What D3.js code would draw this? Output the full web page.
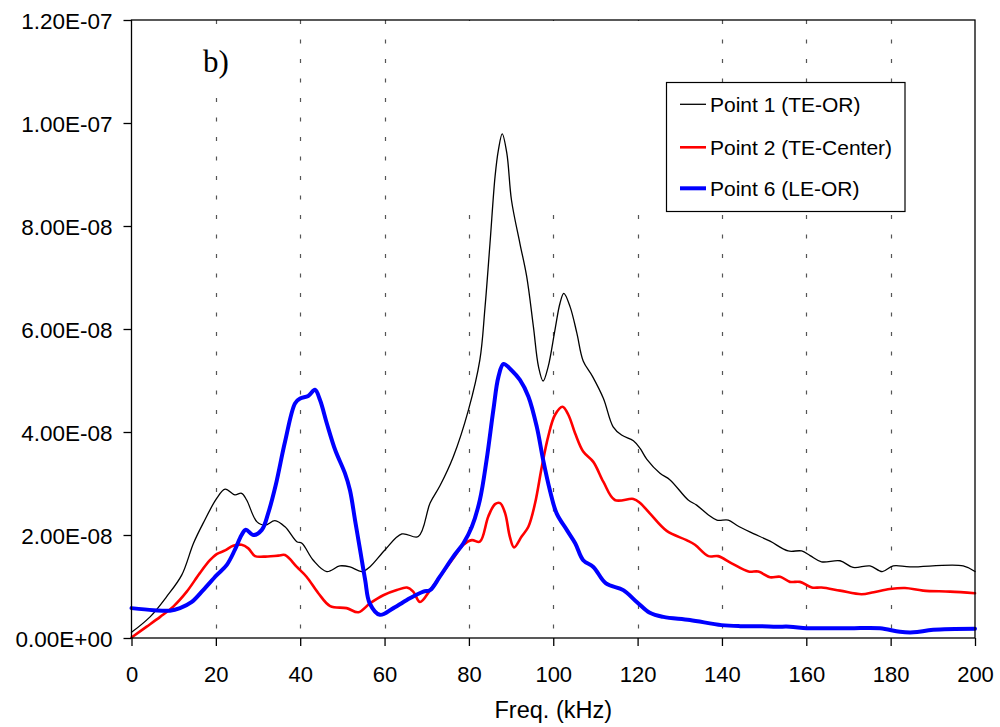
<!DOCTYPE html>
<html>
<head>
<meta charset="utf-8">
<script src="https://cdn.jsdelivr.net/npm/d3@7"></script>
<style>
  html, body { margin: 0; padding: 0; background: #fff; }
  svg { display: block; }
  text { font-family: "Liberation Sans", Arial, sans-serif; fill: #000; }
</style>
</head>
<body>
<svg id="chart" width="1000" height="727"></svg>
<script>
// ---- Data (values in units of 1E-8) ----
const xTicks = [0, 20, 40, 60, 80, 100, 120, 140, 160, 180, 200];
const yTicks = [0, 2e-8, 4e-8, 6e-8, 8e-8, 1e-7, 1.2e-7];
const yTickLabels = ["0.00E+00", "2.00E-08", "4.00E-08", "6.00E-08", "8.00E-08", "1.00E-07", "1.20E-07"];
const seriesNames = ["Point 1 (TE-OR)", "Point 2 (TE-Center)", "Point 6 (LE-OR)"];

const p1Freq = [0, 4.4, 8.3, 11.9, 14.7, 17, 20.2, 22.2, 24.5, 26.1, 27.3, 29.7, 31.7, 34, 36.4, 39.2, 40.4, 43.1, 46.3, 49.4, 51.8, 54.6, 56.5, 60.1, 64.1, 68, 70.8, 73.1, 76.3, 79.9, 82.6, 83.8, 85, 86.2, 87, 87.9, 89, 90.1, 92.1, 93.7, 95.3, 96.5, 97.6, 98.8, 100.4, 101.6, 102.5, 104, 105.6, 107.1, 109.3, 111.9, 114.2, 116.2, 119, 120.6, 122.2, 125.3, 127.7, 132, 134, 136.8, 138.8, 141.5, 143.5, 146.6, 151.4, 155.7, 158.9, 160.9, 163.6, 168, 171.1, 175.1, 178, 180.6, 184.6, 197.2, 200];
const p1Val = [0.11, 0.41, 0.8, 1.22, 1.84, 2.23, 2.71, 2.89, 2.78, 2.81, 2.68, 2.26, 2.19, 2.28, 2.16, 1.87, 1.84, 1.51, 1.29, 1.40, 1.38, 1.29, 1.38, 1.71, 2.02, 1.97, 2.62, 2.95, 3.52, 4.43, 5.40, 6.40, 7.66, 8.96, 9.48, 9.79, 9.41, 8.50, 7.66, 7.02, 6.04, 5.27, 4.99, 5.27, 5.98, 6.50, 6.69, 6.43, 5.92, 5.38, 5.08, 4.65, 4.10, 3.94, 3.83, 3.68, 3.47, 3.20, 3.07, 2.68, 2.58, 2.39, 2.29, 2.29, 2.19, 2.06, 1.88, 1.69, 1.69, 1.60, 1.48, 1.50, 1.37, 1.40, 1.29, 1.40, 1.38, 1.40, 1.29];

const p2Freq = [0, 3.6, 6.8, 9.9, 13.1, 16.2, 18.6, 20.2, 22.2, 24.1, 26.1, 27.7, 29.3, 31.3, 34.8, 36.4, 39.2, 41.5, 44.3, 47.1, 51, 53.8, 56.5, 59.7, 62.9, 65.3, 66.8, 68.4, 70.8, 73.1, 76.3, 78.7, 80.7, 82.6, 84.6, 86.2, 87.4, 88.6, 89.7, 90.7, 92.5, 94.1, 95.7, 97.3, 98.8, 100.4, 102.2, 103.6, 105.2, 107.1, 109.5, 111.9, 114.6, 119, 120.6, 122.9, 126.9, 131.6, 133.6, 136.8, 139.1, 142.3, 146.3, 148.6, 151.4, 153.8, 156.1, 158.5, 161.3, 163.6, 168, 173.1, 176, 179.8, 183.4, 187.7, 194.1, 200];
const p2Val = [0.01, 0.22, 0.41, 0.61, 0.90, 1.26, 1.51, 1.63, 1.70, 1.79, 1.81, 1.74, 1.59, 1.58, 1.60, 1.61, 1.38, 1.19, 0.87, 0.62, 0.58, 0.50, 0.67, 0.83, 0.93, 0.98, 0.90, 0.70, 0.93, 1.19, 1.55, 1.81, 1.90, 1.87, 2.36, 2.60, 2.62, 2.42, 1.97, 1.76, 1.97, 2.16, 2.62, 3.33, 3.91, 4.33, 4.49, 4.33, 3.97, 3.62, 3.42, 3.03, 2.68, 2.70, 2.62, 2.42, 2.08, 1.90, 1.81, 1.59, 1.59, 1.45, 1.29, 1.29, 1.18, 1.19, 1.09, 1.09, 0.98, 0.98, 0.92, 0.85, 0.89, 0.95, 0.97, 0.92, 0.90, 0.87];

const p6Freq = [0, 5.2, 9.1, 11.5, 14.3, 17, 20.2, 22.6, 24.5, 26.1, 27.1, 28.9, 30.9, 32.4, 34.2, 36.4, 38.8, 40, 41.9, 43.5, 44.7, 46.3, 48.3, 50.6, 51.8, 53, 54.2, 55.4, 56.5, 58.9, 62.1, 66, 69.2, 70.8, 73.1, 76.3, 78.7, 80.7, 82.6, 84.2, 85.8, 87, 88.2, 90.1, 92.1, 94.1, 96.1, 97.6, 99.2, 100.8, 103.2, 105.2, 107.1, 109.5, 112.5, 116.6, 119.8, 122.9, 126.1, 132.4, 139.9, 144.3, 149, 153, 156.1, 160.1, 164, 170.4, 177.5, 182.2, 185.4, 190.1, 200];
const p6Val = [0.58, 0.54, 0.53, 0.58, 0.70, 0.93, 1.22, 1.42, 1.71, 2.00, 2.10, 2.00, 2.10, 2.42, 2.97, 3.81, 4.56, 4.65, 4.70, 4.82, 4.62, 4.17, 3.65, 3.20, 2.87, 2.29, 1.71, 1.13, 0.67, 0.45, 0.58, 0.77, 0.90, 0.93, 1.19, 1.58, 1.84, 2.16, 2.68, 3.46, 4.43, 5.07, 5.32, 5.20, 5.01, 4.69, 4.10, 3.46, 2.87, 2.42, 2.10, 1.84, 1.51, 1.38, 1.06, 0.93, 0.70, 0.49, 0.41, 0.35, 0.25, 0.23, 0.23, 0.22, 0.22, 0.19, 0.19, 0.19, 0.19, 0.12, 0.11, 0.16, 0.18];

const colors = ["#000000", "#ff0000", "#0000ff"];
const widths = [1.3, 2.6, 4];

// ---- Layout ----
const svg = d3.select("#chart");
const mLeft = 131.5, mRight = 975, mTop = 20, mBottom = 638;
const x = d3.scaleLinear().domain([0, 200]).range([mLeft, mRight]);
const y = d3.scaleLinear().domain([0, 1.2e-7]).range([mBottom, mTop]);

svg.append("rect").attr("width", 1000).attr("height", 727).attr("fill", "#fff");

// Gridlines (vertical, dashed)
svg.append("g").selectAll("line")
  .data(xTicks.filter(d => d > 0 && d < 200))
  .join("line")
  .attr("x1", d => Math.round(x(d)) + 0.5).attr("x2", d => Math.round(x(d)) + 0.5)
  .attr("y1", mTop).attr("y2", mBottom)
  .attr("stroke", "#555").attr("stroke-width", 1.2)
  .attr("stroke-dasharray", "4,15.5");

// white boxes hiding gridlines (text boxes in original)
svg.append("rect").attr("x", 195).attr("y", 25).attr("width", 45).attr("height", 70).attr("fill", "#fff");
svg.append("rect").attr("x", 420).attr("y", 21).attr("width", 240).attr("height", 186).attr("fill", "#fff");

// Series
const series = [
  { f: p1Freq, v: p1Val },
  { f: p2Freq, v: p2Val },
  { f: p6Freq, v: p6Val }
];
const line = d3.line()
  .x(d => x(d[0]))
  .y(d => y(d[1] * 1e-8))
  .curve(d3.curveCatmullRom.alpha(0.5));

series.forEach((s, i) => {
  const pts = s.f.map((f, k) => [f, s.v[k]]);
  svg.append("path")
    .datum(pts)
    .attr("d", line)
    .attr("fill", "none")
    .attr("stroke", colors[i])
    .attr("stroke-width", widths[i])
    .attr("stroke-linejoin", "round")
    .attr("stroke-linecap", "round");
});

// Frame
svg.append("rect").attr("x", mLeft).attr("y", mTop).attr("width", mRight - mLeft).attr("height", mBottom - mTop)
  .attr("fill", "none").attr("stroke", "#000").attr("stroke-width", 1.3);

// Axes
const yAxis = d3.axisLeft(y).tickValues(yTicks).tickSize(8).tickFormat((d, i) => yTickLabels[i]);
const gy = svg.append("g").attr("transform", `translate(${mLeft},0)`).call(yAxis);
gy.select(".domain").remove();
gy.selectAll(".tick line").attr("stroke", "#000").attr("stroke-width", 1.3);
gy.selectAll(".tick text").attr("x", -19).attr("dy", "0.36em")
  .style("font-size", "22.5px").style("font-family", "Liberation Sans, Arial, sans-serif");

const xAxis = d3.axisBottom(x).tickValues(xTicks).tickSize(8).tickFormat(d => String(d));
const gx = svg.append("g").attr("transform", `translate(0,${mBottom})`).call(xAxis);
gx.select(".domain").remove();
gx.selectAll(".tick line").attr("stroke", "#000").attr("stroke-width", 1.3);
gx.selectAll(".tick text").attr("y", 44).attr("dy", 0)
  .style("font-size", "22px").style("font-family", "Liberation Sans, Arial, sans-serif");

svg.append("text").attr("x", (mLeft + mRight) / 2).attr("y", 718)
  .attr("text-anchor", "middle").style("font-size", "23.5px").text("Freq. (kHz)");

// Panel label
svg.append("text").attr("x", 203).attr("y", 72)
  .style("font-family", "Liberation Serif, 'Times New Roman', serif").style("font-size", "31px").text("b)");

// Legend
const lg = svg.append("g");
lg.append("rect").attr("x", 666.5).attr("y", 82.5).attr("width", 238.5).attr("height", 129)
  .attr("fill", "#fff").attr("stroke", "#000").attr("stroke-width", 1.2);
const rowsY = [104.3, 147.3, 188.3];
seriesNames.forEach((n, i) => {
  lg.append("line").attr("x1", 680).attr("x2", 706).attr("y1", rowsY[i]).attr("y2", rowsY[i])
    .attr("stroke", colors[i]).attr("stroke-width", widths[i]);
  lg.append("text").attr("x", 710).attr("y", rowsY[i]).attr("dy", "0.36em")
    .style("font-size", "21px").text(n);
});
</script>
</body>
</html>
